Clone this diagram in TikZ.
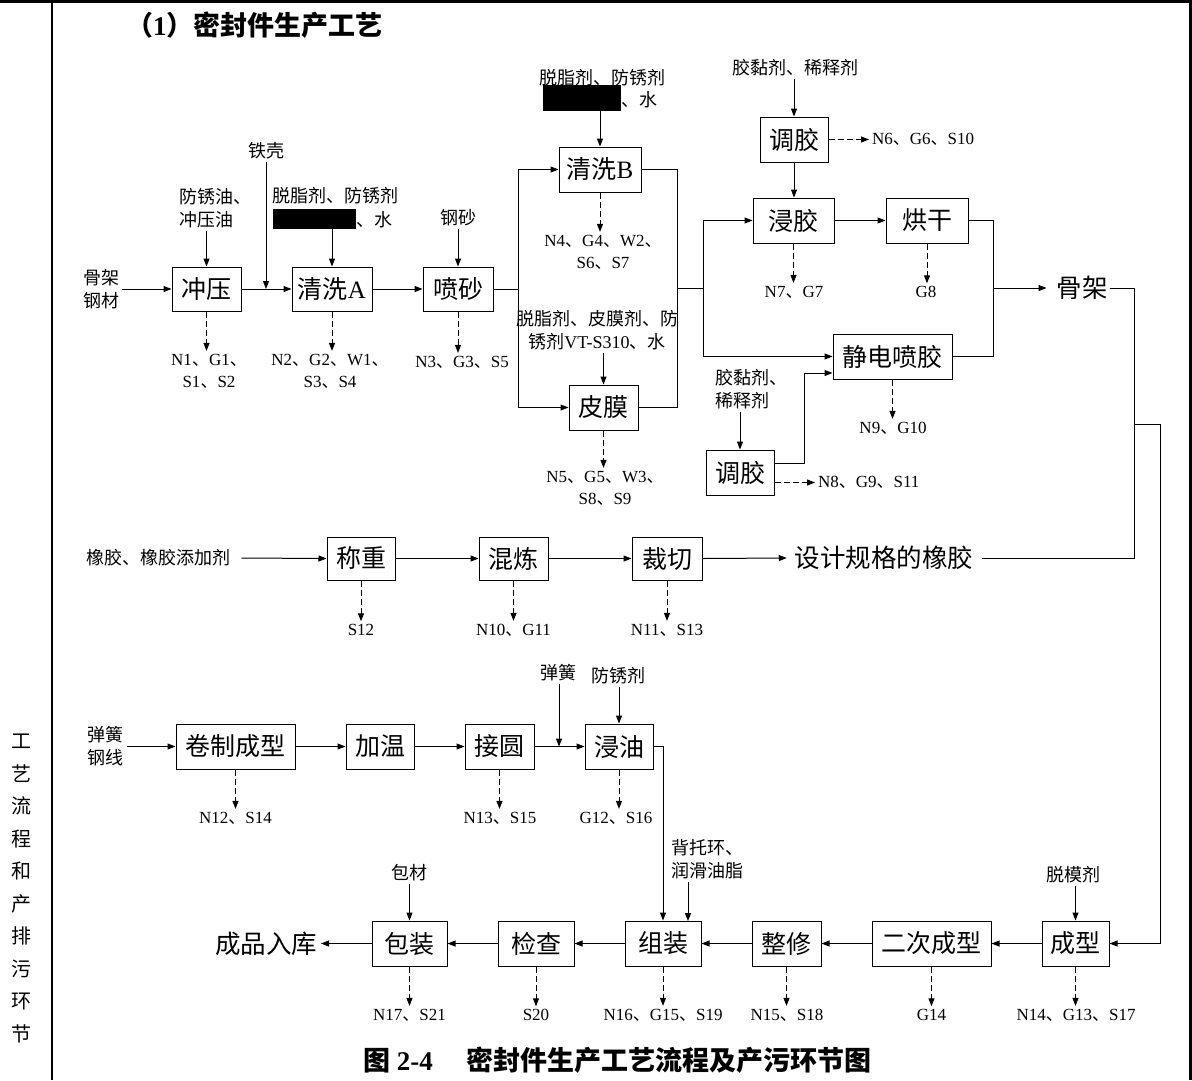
\documentclass[tikz,border=0pt]{standalone}
\usepackage{fontspec}
\setmainfont{Liberation Serif}
\newfontfamily\cjk{Noto Sans CJK SC}
\usetikzlibrary{arrows.meta}
\newcommand\zd{{\cjk 、}}
\tikzset{
  pbox/.style={draw, line width=1pt, inner sep=0pt, minimum height=45pt, font=\cjk\fontsize{25}{28}\selectfont},
  lab/.style={inner sep=0pt, outer sep=3pt, align=center, font=\fontsize{17}{22}\selectfont},
  clab/.style={inner sep=0pt, outer sep=3pt, align=center, font=\cjk\fontsize{18}{23}\selectfont},
  big/.style={inner sep=0pt, outer sep=0pt, font=\cjk\fontsize{25.5}{28}\selectfont},
  redact/.style={fill=black, inner sep=0pt},
  ln/.style={line width=1pt},
  arr/.style={ln, -{Triangle[length=8pt,width=6pt]}},
  darr/.style={arr, dash pattern=on 6pt off 3pt},
}
\begin{document}
\begin{tikzpicture}[x=1pt, y=-1pt]
\useasboundingbox (0,0) rectangle (1192,1080);
% frame
\draw[line width=2.5pt] (0,1.25) -- (1192,1.25);
\draw[line width=1.2pt] (52,0) -- (52,1080);
\draw[line width=2.5pt] (1190.5,0) -- (1190.5,1080);
\node[anchor=north, inner sep=0pt, align=center, font=\cjk\fontsize{20}{32.5}\selectfont] (side) at (22,734) {工\\艺\\流\\程\\和\\产\\排\\污\\环\\节};
% title
\node[anchor=west, inner sep=0pt, font=\bfseries\fontsize{27}{30}\selectfont] (ttl) at (126,25) {{\cjk （}1{\cjk ）密封件生产工艺}};

% ---------- Row 1 ----------
\node[pbox, minimum width=69pt, minimum height=44pt] (cy) at (206.5,289) {冲压};
\node[pbox, minimum width=80pt, minimum height=44pt] (qxa) at (332,289) {清洗{\rmfamily A}};
\node[pbox, minimum width=70pt, minimum height=44pt] (ps) at (458,289) {喷砂};
\node[pbox, minimum width=82pt] (qxb) at (600,169.5) {清洗{\rmfamily B}};
\node[pbox, minimum width=69pt] (pm) at (603.5,407.5) {皮膜};
\node[pbox, minimum width=68pt] (tj1) at (794,139.5) {调胶};
\node[pbox, minimum width=81pt] (jj) at (793.5,220.5) {浸胶};
\node[pbox, minimum width=82pt] (hg) at (927,220.5) {烘干};
\node[pbox, minimum width=119pt] (jd) at (892.5,356.5) {静电喷胶};
\node[pbox, minimum width=68pt] (tj2) at (740,472.5) {调胶};

\node[clab] (in1) at (101,289) {骨架\\钢材};
\node[clab, align=left, anchor=west] (fx) at (176,208.5) {防锈油、\\冲压油};
\node[clab] (tk) at (266,151) {铁壳};
\coordinate (tkj) at (266,289);
\node[clab] (ta) at (335.5,196) {脱脂剂、防锈剂};
\node[redact, minimum width=83pt, minimum height=20pt] (ra) at (314.5,219) {};
\node[clab, anchor=west, outer sep=0pt] (wa) at (356,220) {、水};
\node[clab] (gs) at (458,218) {钢砂};

\node[clab] (tb) at (602,78) {脱脂剂、防锈剂};
\node[redact, minimum width=78pt, minimum height=26pt] (rb) at (582,98) {};
\node[clab, anchor=west, outer sep=0pt] (wb) at (621,100) {、水};
\node[clab] (tpm) at (597,330) {脱脂剂、皮膜剂、防\\锈剂{\rmfamily VT-S310}、水};

\node[clab] (tj1in) at (795,68) {胶黏剂、稀释剂};
\node[clab, align=left, anchor=west] (tj2in) at (712,389) {胶黏剂、\\稀释剂};
\node[big] (gj) at (1082,288) {骨架};

\node[lab] (e1) at (209,371) {N1\zd G1\zd\\S1\zd S2};
\node[lab] (e2) at (330,371) {N2\zd G2\zd W1\zd\\S3\zd S4};
\node[lab] (e3) at (462,362) {N3\zd G3\zd S5};
\node[lab] (e4) at (603,252) {N4\zd G4\zd W2\zd\\S6\zd S7};
\node[lab] (e5) at (605,488) {N5\zd G5\zd W3\zd\\S8\zd S9};
\node[lab, anchor=west] (e6) at (869,139.5) {N6\zd G6\zd S10};
\node[lab] (e7) at (794,292) {N7\zd G7};
\node[lab] (e8) at (926,292) {G8};
\node[lab] (e9) at (893,428) {N9\zd G10};
\node[lab, anchor=west] (e10) at (815,482.5) {N8\zd G9\zd S11};

% row 1 connectors
\draw[arr] (in1.east) -- (cy.west);
\draw[arr] (cy.north |- fx.south) -- (cy.north);
\draw[arr] (tk.south) -- (tkj);
\draw[arr] (cy.east) -- (qxa.west);
\draw[arr] (qxa.north |- ra.south) -- (qxa.north);
\draw[arr] (qxa.east) -- (ps.west);
\draw[arr] (ps.north |- gs.south) -- (ps.north);
\coordinate (j1) at (518,289);
\draw[ln] (ps.east) -- (j1);
\draw[arr] (j1) |- (qxb.west);
\draw[arr] (j1) |- (pm.west);
\draw[arr] (qxb.north |- rb.south) -- (qxb.north);
\draw[arr] (pm.north |- tpm.south) -- (pm.north);
\coordinate (j2) at (677,288);
\draw[ln] (qxb.east) -| (j2);
\draw[ln] (pm.east) -| (j2);
\coordinate (j3) at (703,288);
\draw[ln] (j2) -- (j3);
\draw[arr] (j3) |- (jj.west);
\draw[arr] (j3) |- (jd.west);
\draw[arr] (tj1.north |- tj1in.south) -- (tj1.north);
\draw[arr] (tj1.south) -- (tj1.south |- jj.north);
\draw[arr] (jj.east) -- (hg.west);
\coordinate (j4) at (993,288);
\draw[ln] (hg.east) -| (j4);
\draw[ln] (jd.east) -| (j4);
\draw[arr] (j4) -- ([xshift=-10pt]gj.west);
\draw[arr] (tj2.north |- tj2in.south) -- (tj2.north);
\draw[arr] ([yshift=9.5pt]tj2.east) -- ++(30,0) |- ([yshift=-16.5pt]jd.west);
\draw[darr] (tj1.east) -- (e6.west);
\draw[darr] ([yshift=-10pt]tj2.east) -- (e10.west);

\draw[darr] (cy.south) -- (cy.south |- e1.north);
\draw[darr] (qxa.south) -- (qxa.south |- e2.north);
\draw[darr] (ps.south) -- (ps.south |- e3.north);
\draw[darr] (qxb.south) -- (qxb.south |- e4.north);
\draw[darr] (pm.south) -- (pm.south |- e5.north);
\draw[darr] (jj.south) -- (jj.south |- e7.north);
\draw[darr] (hg.south) -- (hg.south |- e8.north);
\draw[darr] (jd.south) -- (jd.south |- e9.north);

% ---------- Row 2 ----------
\node[pbox, minimum width=68pt, minimum height=43pt] (cz) at (361,558.5) {称重};
\node[pbox, minimum width=69pt, minimum height=43pt] (hl) at (513.5,558.5) {混炼};
\node[pbox, minimum width=70pt, minimum height=43pt] (cq) at (667,558.5) {裁切};
\node[clab] (xj) at (158.5,558) {橡胶、橡胶添加剂};
\node[big] (sj) at (884,558) {设计规格的橡胶};
\node[lab] (e11) at (361,630) {S12};
\node[lab] (e12) at (513.5,630) {N10\zd G11};
\node[lab] (e13) at (667,630) {N11\zd S13};
\draw[arr] ([xshift=8pt]xj.east) -- (cz.west);
\draw[arr] (cz.east) -- (hl.west);
\draw[arr] (hl.east) -- (cq.west);
\draw[arr] (cq.east) -- ([xshift=-8pt]sj.west);
\draw[darr] (cz.south) -- (cz.south |- e11.north);
\draw[darr] (hl.south) -- (hl.south |- e12.north);
\draw[darr] (cq.south) -- (cq.south |- e13.north);

% ---------- Row 3 ----------
\node[pbox, minimum width=119pt] (jz) at (235.5,746.5) {卷制成型};
\node[pbox, minimum width=68pt] (jw) at (380,746.5) {加温};
\node[pbox, minimum width=69pt] (jy) at (499.5,746.5) {接圆};
\node[pbox, minimum width=68pt] (jyo) at (619,746.5) {浸油};
\node[clab] (thg) at (105.5,746.5) {弹簧\\钢线};
\node[clab] (th) at (558,673) {弹簧};
\coordinate (thj) at (559,746.5);
\node[clab] (fxj) at (618,676) {防锈剂};
\node[lab] (e14) at (235.5,818) {N12\zd S14};
\node[lab] (e15) at (500,818) {N13\zd S15};
\node[lab] (e16) at (616,818) {G12\zd S16};
\draw[arr] (thg.east) -- (jz.west);
\draw[arr] (jz.east) -- (jw.west);
\draw[arr] (jw.east) -- (jy.west);
\draw[arr] (jy.east) -- (jyo.west);
\draw[arr] (th.south -| thj) -- (thj);
\draw[arr] (jyo.north |- fxj.south) -- (jyo.north);
\draw[darr] (jz.south) -- (jz.south |- e14.north);
\draw[darr] (jy.south) -- (jy.south |- e15.north);
\draw[darr] (jyo.south) -- (jyo.south |- e16.north);

% ---------- Row 4 ----------
\node[pbox, minimum width=75pt] (bz) at (409.5,943.5) {包装};
\node[pbox, minimum width=76pt] (jc) at (536,943.5) {检查};
\node[pbox, minimum width=76pt] (zz) at (663,943.5) {组装};
\node[pbox, minimum width=69pt] (zx) at (786.5,943.5) {整修};
\node[pbox, minimum width=119pt] (ec) at (931.5,943.5) {二次成型};
\node[pbox, minimum width=67pt] (cx) at (1075.5,943.5) {成型};
\node[big] (cp) at (266,943.5) {成品入库};
\node[clab] (bc) at (409,873) {包材};
\node[clab] (tmj) at (1073,875) {脱模剂};
\node[clab, align=left, anchor=west] (btq) at (668,859) {背托环、\\润滑油脂};
\coordinate (bta) at (688,921);
\node[lab] (e17) at (409.5,1015) {N17\zd S21};
\node[lab] (e18) at (536,1015) {S20};
\node[lab] (e19) at (663,1015) {N16\zd G15\zd S19};
\node[lab] (e20) at (787,1015) {N15\zd S18};
\node[lab] (e21) at (931.5,1015) {G14};
\node[lab] (e22) at (1076,1015) {N14\zd G13\zd S17};
\draw[arr] (cx.west) -- (ec.east);
\draw[arr] (ec.west) -- (zx.east);
\draw[arr] (zx.west) -- (zz.east);
\draw[arr] (zz.west) -- (jc.east);
\draw[arr] (jc.west) -- (bz.east);
\draw[arr] (bz.west) -- ([xshift=4pt]cp.east);
\draw[arr] (bz.north |- bc.south) -- (bz.north);
\draw[arr] (cx.north |- tmj.south) -- (cx.north);
\draw[arr] (btq.south -| bta) -- (bta);
\draw[arr] (jyo.east) -| (zz.north);
\draw[darr] (bz.south) -- (bz.south |- e17.north);
\draw[darr] (jc.south) -- (jc.south |- e18.north);
\draw[darr] (zz.south) -- (zz.south |- e19.north);
\draw[darr] (zx.south) -- (zx.south |- e20.north);
\draw[darr] (ec.south) -- (ec.south |- e21.north);
\draw[darr] (cx.south) -- (cx.south |- e22.north);

% right-hand merge
\coordinate (m1) at (1134,424);
\coordinate (m2) at (1160,424);
\draw[ln] ([xshift=2pt]gj.east) -| (m1);
\draw[ln] ([xshift=9pt]sj.east) -| (m1);
\draw[arr] (m1) -- (m2) |- (cx.east);

% caption
\node[anchor=west, inner sep=0pt, font=\bfseries\fontsize{27}{30}\selectfont] (cap) at (363,1060) {{\cjk 图} 2-4\hspace{34pt}{\cjk 密封件生产工艺流程及产污环节图}};
\end{tikzpicture}
\end{document}
